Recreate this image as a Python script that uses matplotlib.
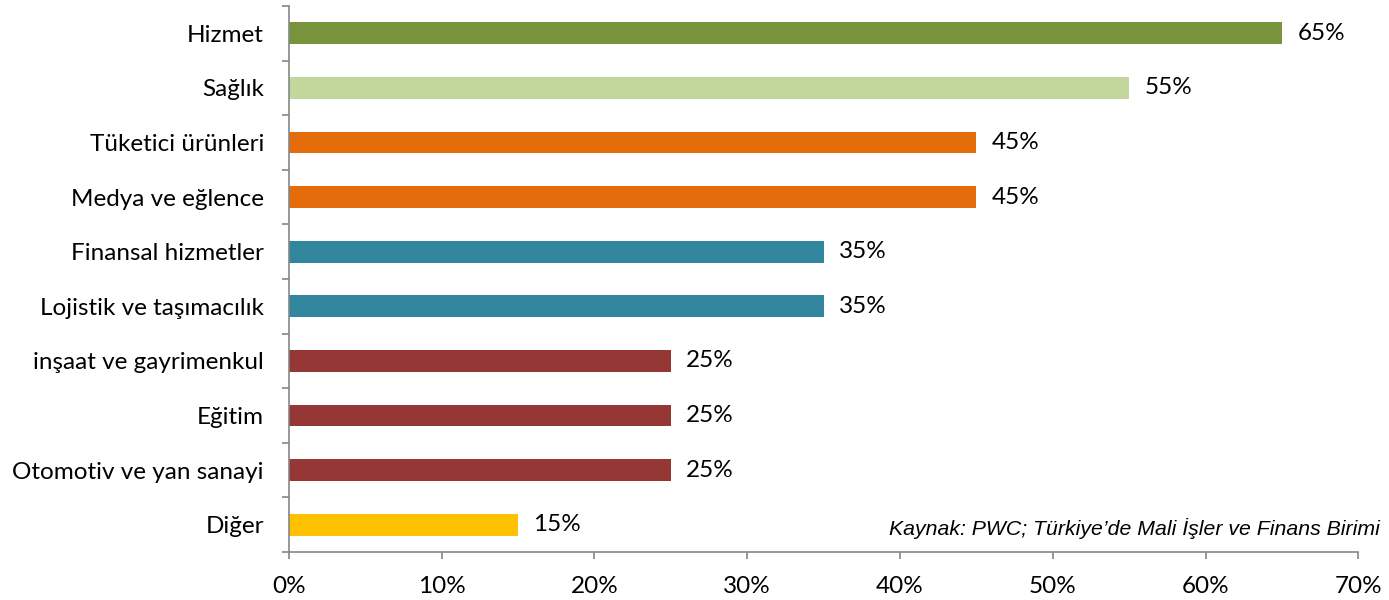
import matplotlib
matplotlib.use('Agg')
import matplotlib.pyplot as plt
from matplotlib.ticker import FuncFormatter, FixedLocator

categories = ['Hizmet', 'Sağlık', 'Tüketici ürünleri', 'Medya ve eğlence',
              'Finansal hizmetler', 'Lojistik ve taşımacılık',
              'inşaat ve gayrimenkul', 'Eğitim', 'Otomotiv ve yan sanayi', 'Diğer']
values = [65, 55, 45, 45, 35, 35, 25, 25, 25, 15]
colors = ['#77933C', '#C3D69B', '#E46C0A', '#E46C0A', '#31859C', '#31859C',
          '#953735', '#953735', '#953735', '#FFC000']
source = 'Kaynak: PWC; Türkiye’de Mali İşler ve Finans Birimi'

plt.rcParams['font.family'] = ['Lato', 'DejaVu Sans']

fig = plt.figure(figsize=(13.89, 6), dpi=100)
ax = fig.add_axes([0.208, 0.08, 0.77, 0.91])

n = len(categories)
ypos = list(range(n))
ax.barh(ypos, values, height=0.4, color=colors)
for y, v in zip(ypos, values):
    ax.text(v + 1.0, y, f'{v}%', va='center', ha='left', fontsize=17.5, color='black')

ax.set_xlim(0, 70)
ax.set_ylim(n - 0.5, -0.5)
ax.set_xticks(range(0, 71, 10))
ax.xaxis.set_major_formatter(FuncFormatter(lambda x, p: f'{int(x)}%'))
ax.set_yticks(ypos)
ax.set_yticklabels(categories)
ax.yaxis.set_minor_locator(FixedLocator([i - 0.5 for i in range(n + 1)]))

for s in ['top', 'right']:
    ax.spines[s].set_visible(False)
for s in ['left', 'bottom']:
    ax.spines[s].set_color('#868686')
    ax.spines[s].set_linewidth(1.2)

ax.tick_params(axis='y', which='major', length=0, pad=18, labelsize=17.5)
ax.tick_params(axis='y', which='minor', length=5, width=1.2, color='#868686', direction='out')
ax.tick_params(axis='x', which='major', length=5, width=1.2, color='#868686', pad=12, labelsize=17.5)

fig.text(889 / 1389, 1 - 528 / 600, source, fontsize=15.3, style='italic',
         family=['Liberation Sans', 'DejaVu Sans'], ha='left', va='center')

fig.savefig('out.png', dpi=100)
